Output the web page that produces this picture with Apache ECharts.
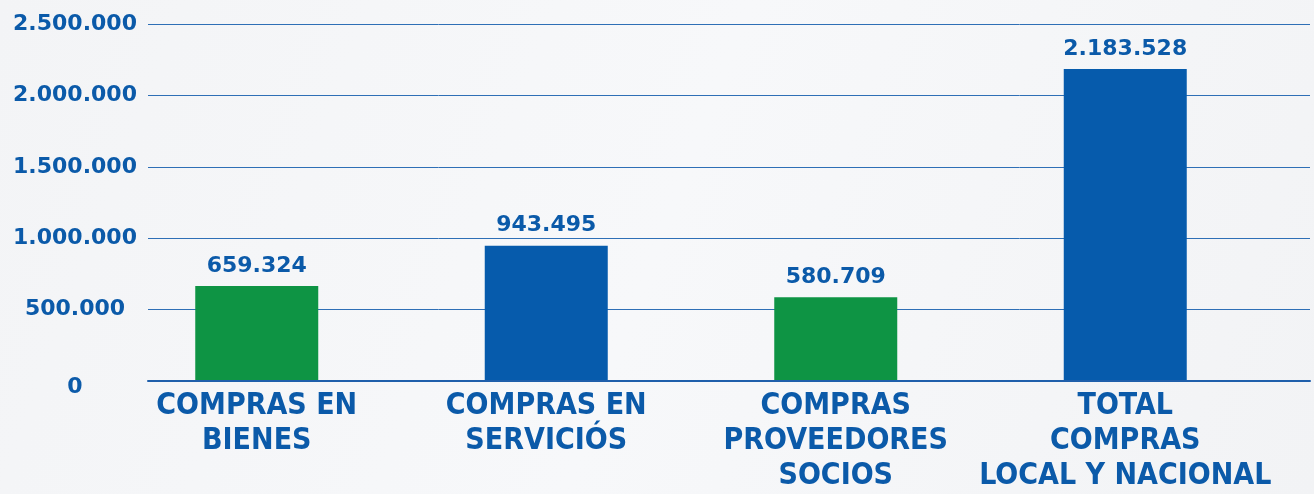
<!DOCTYPE html>
<html>
<head>
<meta charset="utf-8">
<script src="https://cdn.jsdelivr.net/npm/echarts@6/dist/echarts.min.js"></script>
<style>
html,body{margin:0;padding:0;background:#f4f5f7;}
#chart{width:1314px;height:494px;}
</style>
</head>
<body>
<div id="chart"></div>
<script>
const categories = ['COMPRAS EN\nBIENES', 'COMPRAS EN\nSERVICIÓS', 'COMPRAS\nPROVEEDORES\nSOCIOS', 'TOTAL\nCOMPRAS\nLOCAL Y NACIONAL'];
const values = [659324, 943495, 580709, 2183528];
const barColors = ['#0e9444', '#065bac', '#0e9444', '#065bac'];
const yTicks = [0, 500000, 1000000, 1500000, 2000000, 2500000];

const fmt = v => String(v).replace(/\B(?=(\d{3})+(?!\d))/g, '.');
const blue = '#0b5aa9';

const chart = echarts.init(document.getElementById('chart'), null, {renderer: 'canvas'});
chart.setOption({
  backgroundColor: {
    type: 'linear', x: 0, y: 0, x2: 1, y2: 1,
    colorStops: [{offset: 0, color: '#f3f4f6'}, {offset: 0.5, color: '#f7f8fa'}, {offset: 1, color: '#f2f3f5'}]
  },
  animation: false,
  grid: [
    {left: 148, right: 4, top: 24, bottom: 113},
    {left: 112, right: 44, top: 24, bottom: 113}
  ],
  xAxis: [
    {gridIndex: 0, type: 'category', data: categories, show: true,
     axisLine: {show: true, lineStyle: {color: '#1f5fab', width: 2}},
     axisTick: {show: false}, axisLabel: {show: false}},
    {gridIndex: 1, type: 'category', data: categories,
     axisLine: {show: false}, axisTick: {show: false},
     axisLabel: {interval: 0, margin: 9, color: blue, fontFamily: 'DejaVu Sans Condensed', fontWeight: 'bold',
                 fontSize: 30, lineHeight: 35, align: 'center'}}
  ],
  yAxis: [
    {gridIndex: 0, type: 'value', min: yTicks[0], max: yTicks[yTicks.length - 1], interval: yTicks[1] - yTicks[0],
     axisLine: {show: false}, axisTick: {show: false},
     splitLine: {lineStyle: {color: '#2e6fb6', width: 1}},
     axisLabel: {margin: 73, align: 'center', color: blue, fontFamily: 'DejaVu Sans', fontWeight: 'bold', fontSize: 22,
                 formatter: v => v === 0 ? '{z|0}' : fmt(v),
                 rich: {z: {padding: [12, 0, 0, 0], color: blue, fontFamily: 'DejaVu Sans', fontWeight: 'bold', fontSize: 22}}}},
    {gridIndex: 1, type: 'value', min: yTicks[0], max: yTicks[yTicks.length - 1], interval: yTicks[1] - yTicks[0],
     show: false, splitLine: {show: false}}
  ],
  series: [{
    type: 'bar', xAxisIndex: 1, yAxisIndex: 1, z: 3,
    barWidth: 123,
    data: values.map((v, i) => ({value: v, itemStyle: {color: barColors[i]}})),
    label: {show: true, position: 'top', distance: 9, color: blue, fontFamily: 'DejaVu Sans',
            fontWeight: 'bold', fontSize: 22, formatter: p => fmt(p.value)}
  }]
});
</script>
</body>
</html>
